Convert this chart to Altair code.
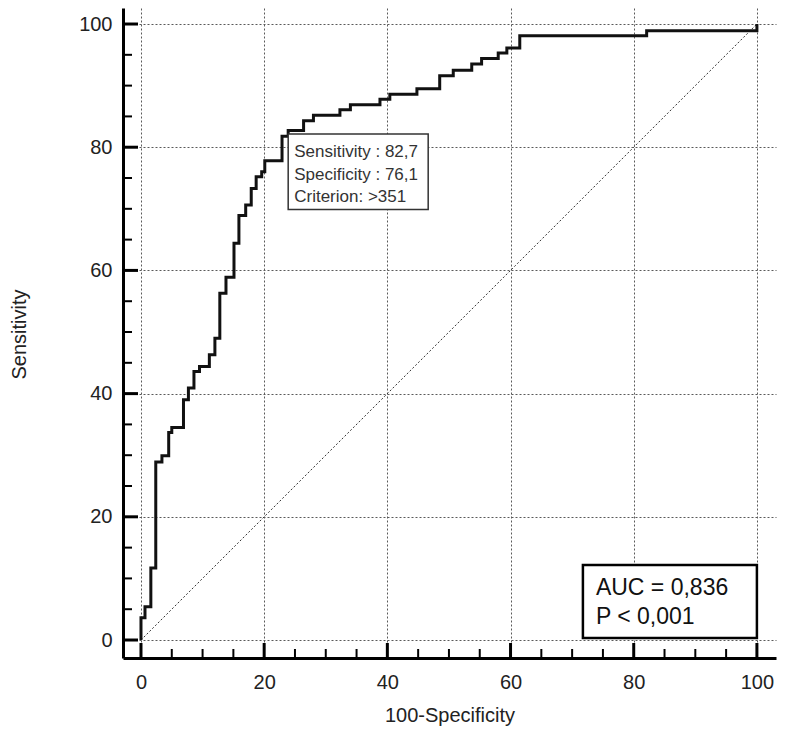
import altair as alt
import pandas as pd

# ROC curve vertices (100-Specificity, Sensitivity)
fpr = [0, 0, 0.65, 1.6, 2.4, 3.4, 4.5, 5.0, 6.9, 7.7, 8.6, 9.5, 11.1, 12.0, 12.8, 13.8,
       15.1, 15.9, 17.0, 17.9, 18.7, 19.6, 20.1, 22.9, 23.9, 26.4, 28.0, 32.3, 34.0, 38.8,
       40.4, 44.8, 48.5, 50.7, 53.7, 55.3, 58.0, 59.4, 61.5, 82.1, 100]
tpr = [0, 3.6, 5.4, 11.7, 28.9, 29.9, 33.7, 34.5, 39.0, 40.9, 43.6, 44.4, 46.3, 49.0, 56.3,
       58.9, 64.4, 68.9, 70.6, 73.3, 75.2, 76.0, 77.8, 81.8, 82.7, 84.3, 85.2, 86.1, 86.9,
       87.8, 88.6, 89.5, 91.6, 92.5, 93.5, 94.4, 95.3, 96.1, 98.1, 98.9, 100]

diag_x = [0, 100]
diag_y = [0, 100]

axis_values = [0, 20, 40, 60, 80, 100]
minor_values = [v for v in range(0, 101, 5) if v % 20 != 0]

crit_sens = 82.7
crit_spec = 76.1
crit_lines = ["Sensitivity : 82,7", "Specificity : 76,1", "Criterion: >351"]
auc_lines = ["AUC = 0,836", "P < 0,001"]
auc_anchor_x = [100]
auc_anchor_y = [0]

x_title = "100-Specificity"
y_title = "Sensitivity"

W, H = 653, 650
FONT = "Liberation Sans"

roc_df = pd.DataFrame({"x": fpr, "y": tpr, "i": list(range(len(fpr)))})
diag_df = pd.DataFrame({"x": diag_x, "y": diag_y})
major_df = pd.DataFrame({"v": axis_values})
minor_df = pd.DataFrame({"v": minor_values})
crit_df = pd.DataFrame({"x": [100 - crit_spec], "y": [crit_sens], "t": ["\n".join(crit_lines)]})
auc_df = pd.DataFrame({"x": auc_anchor_x, "y": auc_anchor_y, "t": ["\n".join(auc_lines)]})

xs = alt.Scale(domain=[-2.92, 103.1], nice=False, zero=False)
ys = alt.Scale(domain=[-2.92, 102.6], nice=False, zero=False)

x_axis = alt.Axis(values=axis_values, grid=True, gridDash=[2, 2], gridColor="#5a5a5a",
                  gridWidth=1, ticks=False, tickSize=0, domain=True, domainColor="black",
                  domainWidth=3, labelFontSize=20, labelFont=FONT, labelColor="#222",
                  labelPadding=14, title=x_title, titleFont=FONT, titleFontSize=20,
                  titleFontWeight="normal", titleColor="#222", titleY=47)
y_axis = alt.Axis(values=axis_values, grid=True, gridDash=[2, 2], gridColor="#5a5a5a",
                  gridWidth=1, ticks=False, tickSize=0, domain=True, domainColor="black",
                  domainWidth=3, labelFontSize=20, labelFont=FONT, labelColor="#222",
                  labelPadding=11, title=y_title, titleFont=FONT, titleFontSize=20,
                  titleFontWeight="normal", titleColor="#222", titleX=-94, titleY=326)

base_axes = alt.Chart(diag_df).mark_line(
    strokeDash=[2, 2], color="#333", strokeWidth=1
).encode(
    x=alt.X("x:Q", scale=xs, axis=x_axis),
    y=alt.Y("y:Q", scale=ys, axis=y_axis),
)

x_major = alt.Chart(major_df).mark_rule(color="black", strokeWidth=3).encode(
    x=alt.X("v:Q", scale=xs), y=alt.value(H), y2=alt.value(H - 15))
x_minor = alt.Chart(minor_df).mark_rule(color="black", strokeWidth=2).encode(
    x=alt.X("v:Q", scale=xs), y=alt.value(H), y2=alt.value(H - 9))
y_major = alt.Chart(major_df).mark_rule(color="black", strokeWidth=3).encode(
    y=alt.Y("v:Q", scale=ys), x=alt.value(0), x2=alt.value(15))
y_minor = alt.Chart(minor_df).mark_rule(color="black", strokeWidth=2).encode(
    y=alt.Y("v:Q", scale=ys), x=alt.value(0), x2=alt.value(9))

roc = alt.Chart(roc_df).mark_line(
    interpolate="step-after", color="#111", strokeWidth=3
).encode(
    x=alt.X("x:Q", scale=xs), y=alt.Y("y:Q", scale=ys), order="i:Q")

crit_box = alt.Chart(crit_df).mark_rect(
    fill="white", stroke="#333", strokeWidth=1.5, x2Offset=140, yOffset=3.5, y2Offset=79
).encode(
    x=alt.X("x:Q", scale=xs), x2="x:Q", y=alt.Y("y:Q", scale=ys), y2="y:Q")
crit_text = alt.Chart(crit_df).mark_text(
    align="left", baseline="alphabetic", dx=6, dy=26.5, fontSize=17, font=FONT,
    color="#333", lineHeight=22.5, lineBreak="\n"
).encode(x=alt.X("x:Q", scale=xs), y=alt.Y("y:Q", scale=ys), text="t:N")

auc_box = alt.Chart(auc_df).mark_rect(
    fill="white", stroke="black", strokeWidth=2.5, xOffset=-174, yOffset=-2, y2Offset=-75
).encode(
    x=alt.X("x:Q", scale=xs), x2="x:Q", y=alt.Y("y:Q", scale=ys), y2="y:Q")
auc_text = alt.Chart(auc_df).mark_text(
    align="left", baseline="alphabetic", dx=-161, dy=-45, fontSize=23, font=FONT,
    color="#111", lineHeight=29, lineBreak="\n"
).encode(x=alt.X("x:Q", scale=xs), y=alt.Y("y:Q", scale=ys), text="t:N")

chart = alt.layer(
    base_axes, x_major, x_minor, y_major, y_minor, roc, crit_box, crit_text, auc_box, auc_text
).properties(
    width=W, height=H,
    autosize=alt.AutoSizeParams(type="none"),
    padding={"left": 115, "top": 0, "right": 6, "bottom": 79},
    background="white",
).configure_view(strokeWidth=0)

chart.save("out.html", embed_options={"renderer": "svg", "actions": False})
